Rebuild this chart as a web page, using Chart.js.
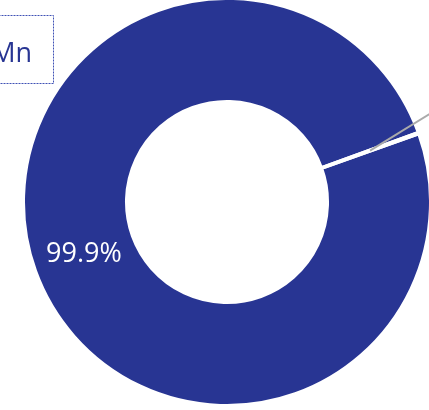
<!DOCTYPE html>
<html>
<head>
<meta charset="utf-8">
<script src="https://cdn.jsdelivr.net/npm/chart.js@4/dist/chart.umd.min.js"></script>
<style>
  body { margin: 0; background: #fff; }
  #wrap { width: 429px; height: 410px; }
</style>
</head>
<body>
<div id="wrap"><canvas id="mnChart" width="429" height="410"></canvas></div>
<script>
// composition shares
const labels = ["Mn", "Other"];
const shares = [99.9, 0.1];
const colors = ["#283593", "#ffffff"];

// draws the percentage inside the big slice and a leader line off the thin one
const sliceLabels = {
    id: "sliceLabels",
    afterDatasetsDraw(chart) {
        const ctx = chart.ctx;
        const meta = chart.getDatasetMeta(0);
        const total = shares.reduce((a, b) => a + b, 0);
        ctx.save();
        meta.data.forEach((arc, i) => {
            const pct = shares[i] / total * 100;
            const p = arc.getCenterPoint();
            if (pct >= 1) {
                ctx.fillStyle = "#ffffff";
                ctx.font = "27px 'Open Sans'";
                ctx.textAlign = "center";
                ctx.textBaseline = "middle";
                ctx.fillText(pct.toFixed(1) + "%", p.x, p.y + 1);
            } else {
                const a = -31.5 * Math.PI / 180;
                ctx.strokeStyle = "#aaaaaa";
                ctx.lineWidth = 2;
                ctx.beginPath();
                ctx.moveTo(p.x, p.y);
                ctx.lineTo(p.x + Math.cos(a) * 120, p.y + Math.sin(a) * 120);
                ctx.stroke();
            }
        });
        ctx.restore();
    }
};

// boxed legend entry in the top-left corner
const boxLegend = {
    id: "boxLegend",
    afterDraw(chart) {
        const ctx = chart.ctx;
        ctx.save();
        ctx.strokeStyle = "#3f51b5";
        ctx.lineWidth = 1;
        ctx.setLineDash([2, 1]);
        ctx.strokeRect(-40.5, 15.5, 94, 68);
        ctx.setLineDash([]);
        ctx.fillStyle = "#283593";
        ctx.font = "27px 'Open Sans'";
        ctx.textAlign = "right";
        ctx.textBaseline = "alphabetic";
        ctx.fillText(labels[0], 32, 62);
        ctx.restore();
    }
};

new Chart(
    document.getElementById("mnChart"),
    {
        type: "doughnut",

        data: {
            labels: labels,
            datasets: [
                {
                    data: shares,
                    backgroundColor: colors,
                    borderColor: "#ffffff",
                    borderWidth: 3,
                    hoverOffset: 0
                }
            ]
        },

        options: {
            responsive: false,
            animation: false,
            rotation: 70.4,
            cutout: "49.4%",
            radius: 203.5,
            clip: false,
            layout: {
                padding: { left: 25, right: 0, top: 0, bottom: 6 }
            },
            plugins: {
                legend: { display: false },
                tooltip: { enabled: false }
            }
        },

        plugins: [sliceLabels, boxLegend]
    }
);
</script>
</body>
</html>
